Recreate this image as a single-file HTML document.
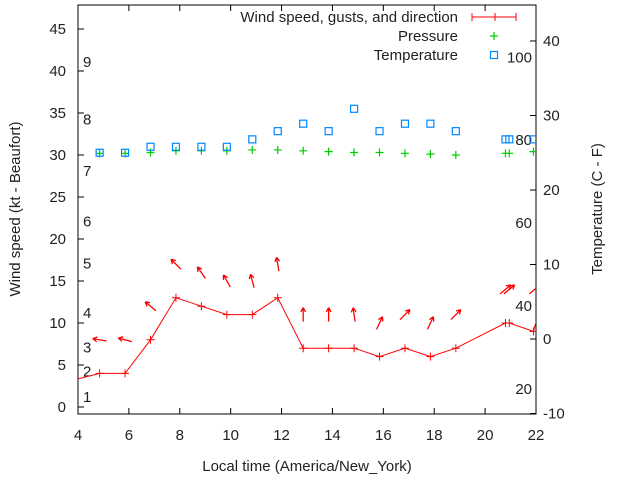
<!DOCTYPE html>
<html><head><meta charset="utf-8"><style>
body{margin:0;background:#fff;}
svg text{font-family:"Liberation Sans",sans-serif;font-size:15px;fill:#222;}
</style></head><body>
<svg id="c" width="640" height="480" xmlns="http://www.w3.org/2000/svg">
<defs><clipPath id="pc"><rect x="78" y="5" width="458" height="409"/></clipPath></defs>
<g id="ax"></g>
<g id="marks" clip-path="url(#pc)"></g>
<g id="leg"></g>
</svg>
<script>
const hours=[3.8,4.85,5.85,6.85,7.85,8.85,9.85,10.85,11.85,12.85,13.85,14.85,15.85,16.85,17.85,18.85,20.8,20.95,21.9,22.3];
const windSpeed=[3.2,4,4,8,13,12,11,11,13,7,7,7,6,7,6,7,10,10,9,13.4];
const arrowHours=[4.85,5.85,6.85,7.85,8.85,9.85,10.85,11.85,12.85,13.85,14.85,15.85,16.85,17.85,18.85,20.8,20.95,21.95];
const arrowSpeed=[8,8,12,17,16,15,15,17,11,11,11,10,11,10,11,14,14,14];
const arrowDeg=[170,165,140,135,125,120,105,100,90,90,98,65,45,65,45,40,40,40];
const pressHours=[4.85,5.85,6.85,7.85,8.85,9.85,10.85,11.85,12.85,13.85,14.85,15.85,16.85,17.85,18.85,20.8,20.95,21.9];
const pressure=[30.2,30.2,30.3,30.5,30.5,30.5,30.6,30.6,30.5,30.4,30.3,30.3,30.2,30.1,30.0,30.2,30.2,30.4];
const tempHours=[4.85,5.85,6.85,7.85,8.85,9.85,10.85,11.85,12.85,13.85,14.85,15.85,16.85,17.85,18.85,20.8,20.95,21.9];
const temperature=[25,25,25.8,25.8,25.8,25.8,26.8,27.9,28.9,27.9,30.9,27.9,28.9,28.9,27.9,26.8,26.8,26.8];
const xTicks=[4,6,8,10,12,14,16,18,20,22];
const yTicks=[0,5,10,15,20,25,30,35,40,45];
const y2Ticks=[-10,0,10,20,30,40];
const beaufort=["1","2","3","4","5","6","7","8","9"];
const beaufortKt=[1.2,4.2,7.1,11.2,17.1,22.1,28.1,34.2,41.1];
const fahr=["20","40","60","80","100"];
const fahrC=[-6.7,4.4,15.6,26.7,37.8];

const X=h=>78+(h-4)*458/18;
const Y=v=>407-v*8.4;
const Y2=t=>339-t*7.45;
const NS="http://www.w3.org/2000/svg";
function mk(tag,attrs,parent,txt){const e=document.createElementNS(NS,tag);for(const k in attrs)e.setAttribute(k,attrs[k]);if(txt!==undefined)e.textContent=txt;parent.appendChild(e);return e;}
const ax=document.getElementById('ax'),mg=document.getElementById('marks'),lg=document.getElementById('leg');

let fr=mk('rect',{x:78,y:5,width:458,height:409,fill:'none',stroke:'#000','stroke-width':1},ax);


xTicks.forEach(t=>{const x=X(t);
 let l=mk('path',{d:`M${x} 414v-6M${x} 5v6`,stroke:'#000'},ax);
 
 
 let tx=mk('text',{x:x,y:440,'text-anchor':'middle'},ax,String(t));
 
 });
yTicks.forEach(t=>{const y=Y(t);
 let l=mk('path',{d:`M78 ${y}h6`,stroke:'#000'},ax);
 
 
 let tx=mk('text',{x:66,y:y+5,'text-anchor':'end'},ax,String(t));
 
 });
y2Ticks.forEach(t=>{const y=Y2(t);
 let l=mk('path',{d:`M536 ${y}h-6`,stroke:'#000'},ax);
 
 
 let tx=mk('text',{x:543,y:y+5},ax,String(t));
 
 });
beaufort.forEach((b,i)=>{let tx=mk('text',{x:83,y:Y(beaufortKt[i])+5},ax,b);
 
 });
fahr.forEach((f,i)=>{let tx=mk('text',{x:532,y:Y2(fahrC[i])+5,'text-anchor':'end'},ax,f);
 
 });
let t1=mk('text',{x:307,y:471,'text-anchor':'middle'},ax,'Local time (America/New_York)');

let t2=mk('text',{transform:'translate(20,209) rotate(-90)','text-anchor':'middle'},ax,'Wind speed (kt - Beaufort)');

let t3=mk('text',{transform:'translate(602,209) rotate(-90)','text-anchor':'middle'},ax,'Temperature (C - F)');


let pl=mk('polyline',{points:hours.map((h,i)=>X(h)+','+Y(windSpeed[i])).join(' '),fill:'none',stroke:'#f00','stroke-width':1},mg);


hours.forEach((h,i)=>{const x=X(h),y=Y(windSpeed[i]);
 let p=mk('path',{d:`M${x-4} ${y}h8M${x} ${y-4}v8`,stroke:'#f00'},mg);
 
 });
arrowHours.forEach((h,i)=>{const cx=X(h),cy=Y(arrowSpeed[i]);const a=arrowDeg[i]*Math.PI/180;
 const dx=Math.cos(a)*7,dy=-Math.sin(a)*7;
 const hx=cx+dx,hy=cy+dy;
 const b1=a+Math.PI-0.5,b2=a+Math.PI+0.5;
 let p=mk('path',{d:`M${cx-dx} ${cy-dy}L${hx} ${hy}M${hx} ${hy}L${hx+Math.cos(b1)*5} ${hy-Math.sin(b1)*5}M${hx} ${hy}L${hx+Math.cos(b2)*5} ${hy-Math.sin(b2)*5}`,stroke:'#f00','stroke-width':1.3,fill:'none'},mg);
 
 });
pressHours.forEach((h,i)=>{const x=X(h),y=Y(pressure[i]);
 let p=mk('path',{d:`M${x-4} ${y}h8M${x} ${y-4}v8`,stroke:'#0c0','stroke-width':1.2},mg);
 
 });
tempHours.forEach((h,i)=>{const x=X(h),y=Y2(temperature[i]);
 let r=mk('rect',{x:x-3.5,y:y-3.5,width:7,height:7,fill:'none',stroke:'#08f','stroke-width':1.2},mg);
 
 });

const legText=['Wind speed, gusts, and direction','Pressure','Temperature'];
legText.forEach((s,i)=>{const y=17+i*19;
 let tx=mk('text',{x:458,y:y+5,'text-anchor':'end'},lg,s);
 
 });
let l1=mk('path',{d:'M472 17h44M472 13v8M495 13v8M516 13v8',stroke:'#f00'},lg);

let l2=mk('path',{d:'M490 36h8M494 32v8',stroke:'#0c0','stroke-width':1.2},lg);

let l3=mk('rect',{x:490.5,y:51.5,width:7,height:7,fill:'none',stroke:'#08f','stroke-width':1.2},lg);

</script>
</body></html>
